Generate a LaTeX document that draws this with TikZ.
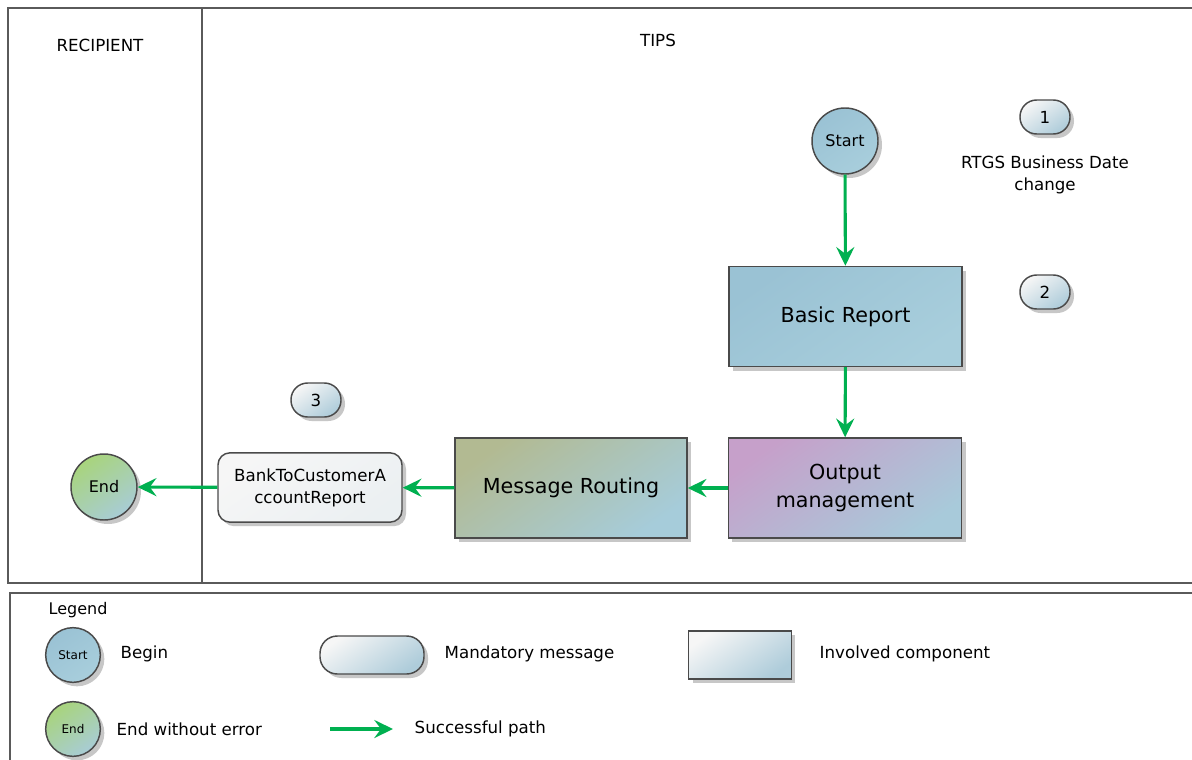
\documentclass[tikz,border=0pt]{standalone}
\usepackage{fontspec}
\setmainfont{DejaVu Sans}
\usetikzlibrary{shadows,arrows.meta}
\definecolor{edge}{HTML}{4A4A4A}
\definecolor{pool}{HTML}{5A5A5A}
\definecolor{flowgreen}{HTML}{00B050}
\definecolor{blueA}{HTML}{9AC2D4}
\definecolor{blueB}{HTML}{A8CEDC}
\definecolor{purpA}{HTML}{C6A0CA}
\definecolor{purpB}{HTML}{A8CADA}
\definecolor{oliveA}{HTML}{B2BA92}
\definecolor{oliveB}{HTML}{A6CCDA}
\definecolor{greenA}{HTML}{A8D47C}
\definecolor{greenB}{HTML}{A8CCD6}
\definecolor{paleA}{HTML}{F6F6F6}
\definecolor{paleB}{HTML}{AECCDA}
\tikzset{
  shad/.style={drop shadow={shadow xshift=3pt,shadow yshift=-3pt,fill=black!22,opacity=1}},
  grad/.style 2 args={top color=#1,bottom color=#2,shading angle=35},
  startnode/.style={circle,draw=edge,line width=1.1pt,minimum size=49.5pt,inner sep=0pt,shad,grad={blueA}{blueB},font=\fontsize{12}{14}\selectfont},
  endnode/.style={circle,draw=edge,line width=1.1pt,minimum size=49.5pt,inner sep=0pt,shad,grad={greenA}{greenB},font=\fontsize{12}{14}\selectfont},
  compbox/.style={rectangle,draw=edge,line width=1.1pt,minimum width=175pt,minimum height=75pt,align=center,shad,font=\fontsize{15.5}{21.5}\selectfont},
  msgbox/.style={rectangle,rounded corners=9pt,draw=edge,line width=1.1pt,minimum width=138pt,minimum height=52pt,align=center,shad,top color=paleA,bottom color=paleA!85!paleB,shading angle=35,font=\fontsize{12.5}{16.5}\selectfont},
  badge/.style={rectangle,rounded corners=12.5pt,draw=edge,line width=1.1pt,minimum width=37.5pt,minimum height=25.5pt,inner sep=0pt,shad,grad={paleA}{paleB},font=\fontsize{12.5}{15}\selectfont},
  lbl/.style={font=\fontsize{12.5}{17}\selectfont,align=center},
  legtext/.style={font=\fontsize{12.5}{15}\selectfont,anchor=west},
  flow/.style={draw=flowgreen,line width=2.3pt,-{Stealth[length=14pt,width=13.5pt,inset=5pt]}},
  poolline/.style={draw=pool,line width=1.3pt}
}
\begin{document}
\begin{tikzpicture}[x=0.75pt,y=-0.75pt]
\clip (0,0) rectangle (1192,760);
\fill[white] (0,0) rectangle (1192,760);
% pools
\draw[poolline] (1200,8) -- (8,8) -- (8,583) -- (1200,583);
\draw[poolline] (202,8) -- (202,583);
\draw[poolline] (1200,593) -- (10,593) -- (10,770);
\node[lbl] (recip) at (100,45) {RECIPIENT};
\node[lbl] (tips) at (658,40) {TIPS};
% main flow
\node[startnode] (start) at (845,141) {Start};
\node[badge] (b1) at (1045,117) {1};
\node[lbl] (rtgs) at (1045,175) {RTGS Business Date\\change};
\node[compbox,grad={blueA}{blueB}] (basic) at (845.5,316.5) {Basic Report};
\node[badge] (b2) at (1045,292) {2};
\node[compbox,grad={purpA}{purpB}] (outm) at (845,488) {Output\\management};
\node[compbox,grad={oliveA}{oliveB},minimum width=174pt] (route) at (571,488) {Message Routing};
\node[msgbox] (bank) at (310,487.5) {BankToCustomerA\\ccountReport};
\node[badge] (b3) at (316,400) {3};
\node[endnode] (end) at (104,487) {End};
\draw[flow] (start) -- (basic);
\draw[flow] (basic) -- (outm);
\draw[flow] (outm) -- (route);
\draw[flow] (route) -- (bank);
\draw[flow] (bank) -- (end);
% legend
\node[font=\fontsize{12}{14}\selectfont,anchor=west] (legend) at (44,610) {Legend};
\node[startnode,minimum size=41pt,font=\fontsize{9}{11}\selectfont] (lstart) at (73,655) {Start};
\node[legtext] (lbegin) at (116,654) {Begin};
\node[badge,minimum width=78pt,minimum height=28.5pt,rounded corners=13pt] (lmsg) at (372,655) {};
\node[legtext] (lmsgt) at (440,654) {Mandatory message};
\node[rectangle,draw=edge,line width=1.1pt,minimum width=77pt,minimum height=36pt,shad,grad={paleA}{paleB}] (lcomp) at (740,655) {};
\node[legtext] (lcompt) at (815,654) {Involved component};
\node[endnode,minimum size=41pt,font=\fontsize{9}{11}\selectfont] (lend) at (73,729) {End};
\node[legtext] (lendt) at (112,729) {End without error};
\coordinate (la) at (330,729);
\coordinate (lb) at (393,729);
\draw[flow] (la) -- (lb);
\node[legtext] (lpath) at (410,729) {Successful path};
\end{tikzpicture}
\end{document}
